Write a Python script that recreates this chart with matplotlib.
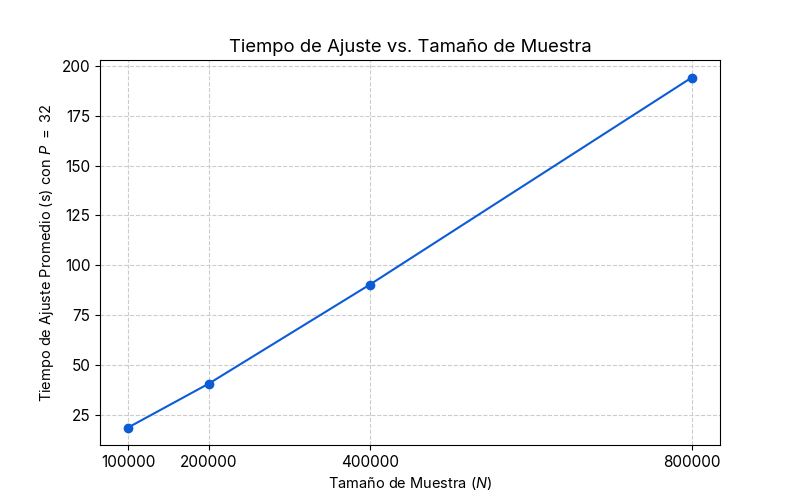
import matplotlib
matplotlib.use("Agg")
import matplotlib.pyplot as plt

# data
sample_sizes = [100000, 200000, 400000, 800000]
fit_times = [18.5, 40.5, 90.2, 194.2]

plt.rcParams['font.family'] = ['Inter', 'DejaVu Sans']
plt.rcParams['mathtext.fontset'] = 'custom'
plt.rcParams['mathtext.rm'] = 'Inter'
plt.rcParams['mathtext.it'] = 'Inter:italic'

fig, ax = plt.subplots(figsize=(8, 5), dpi=100)
ax.plot(sample_sizes, fit_times, marker='o', color='#0b5cd5', linewidth=1.5, markersize=6)

ax.set_title('Tiempo de Ajuste vs. Tamaño de Muestra', fontsize=13.3)
ax.set_xlabel('Tamaño de Muestra ($N$)', fontsize=10.5)
ax.set_ylabel('Tiempo de Ajuste Promedio (s) con $P\\ =\\ 32$', fontsize=10.5)
ax.set_xticks(sample_sizes)
ax.set_xticklabels([str(s) for s in sample_sizes])
ax.tick_params(labelsize=11)
ax.grid(True, linestyle='--', color='#cccccc', linewidth=0.8)

fig.savefig('out.png', dpi=100)
